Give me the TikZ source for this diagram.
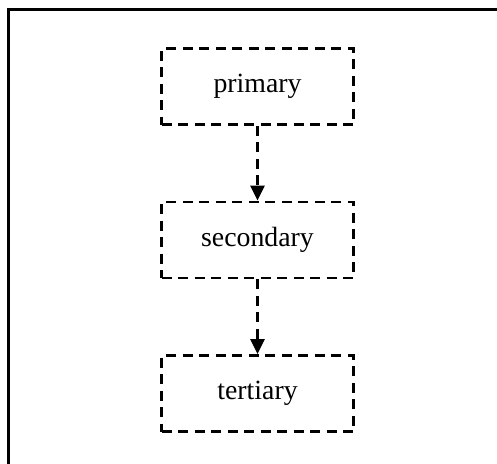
\documentclass[tikz,border=0pt]{standalone}
\usepackage{fontspec}
\setmainfont{Liberation Serif}
\usetikzlibrary{arrows.meta}

\begin{document}
\begin{tikzpicture}[x=1pt,y=-1pt,
	level/.style={draw=black,line width=2.8pt,dash pattern=on 10pt off 6.5pt,minimum width=192pt,minimum height=76pt,inner sep=0pt,font=\fontsize{27.8}{30}\selectfont},
	link/.style={line width=2.8pt,dash pattern=on 10pt off 6.5pt,-{Triangle[length=15pt,width=14pt]}}]
	\useasboundingbox (0,0) rectangle (497,463);
	\draw [black,line width=2.8pt] (8.5,470) -- (8.5,9.5) -- (505,9.5);
	\node [level] (primary) at (257.5,86.5) {primary};
	\node [level] (secondary) at (257.5,240) {secondary};
	\node [level] (tertiary) at (257.5,393.5) {tertiary};
	\draw [link] (primary) -- (secondary);
	\draw [link] (secondary) -- (tertiary);
\end{tikzpicture}
\end{document}
